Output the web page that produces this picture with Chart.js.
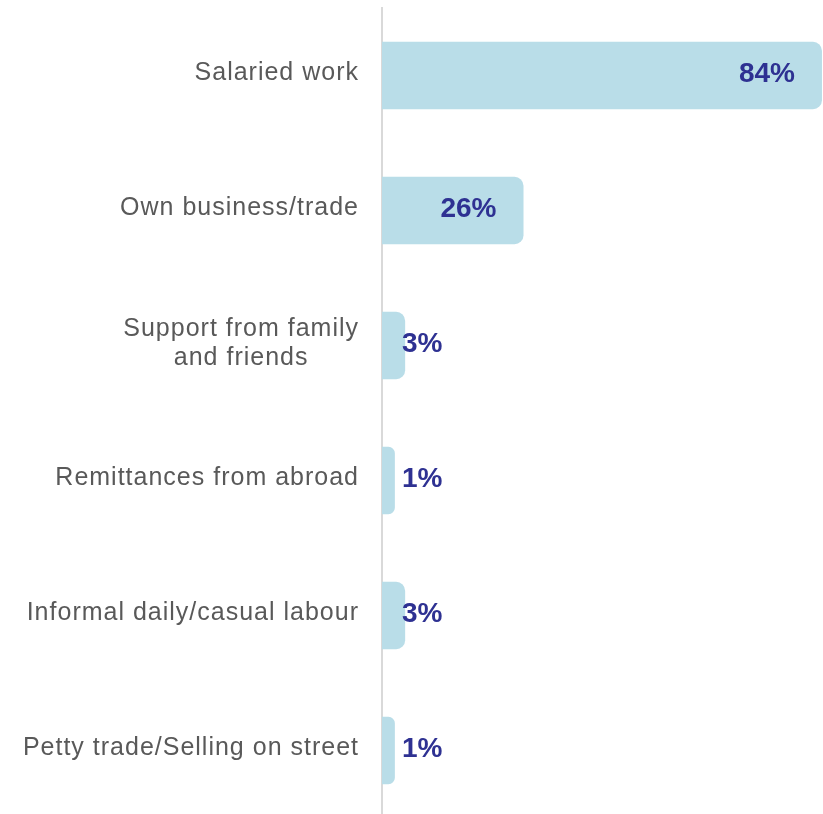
<!DOCTYPE html>
<html>
<head>
<meta charset="utf-8">
<script src="https://cdn.jsdelivr.net/npm/chart.js@4"></script>
<style>
html,body{margin:0;padding:0;background:#fff;overflow:hidden;}
#wrap{width:823px;height:818px;position:relative;}
</style>
</head>
<body>
<div id="wrap"><canvas id="c"></canvas></div>
<script>
const categories = [
  'Salaried work',
  'Own business/trade',
  ['Support from family', 'and friends'],
  'Remittances from abroad',
  'Informal daily/casual labour',
  'Petty trade/Selling on street'
];
const values = [84, 26, 3, 1, 3, 1];
const valueLabels = ['84%', '26%', '3%', '1%', '3%', '1%'];

const BAR = '#b9dde8';
const LABEL = '#2e3192';
const TEXT = '#595959';
const BASE = -1.5;

const labelPlugin = {
  id: 'labels',
  afterDatasetsDraw(chart) {
    const ctx = chart.ctx;
    const meta = chart.getDatasetMeta(0);
    const yScale = chart.scales.y;
    const xLeft = chart.chartArea.left;
    ctx.save();
    // category labels
    ctx.font = '25px "Liberation Sans", Arial, sans-serif';
    ctx.fillStyle = TEXT;
    ctx.textBaseline = 'middle';
    try { ctx.letterSpacing = '1px'; } catch (e) {}
    const rightEdge = xLeft - 23;
    const lineH = 29;
    categories.forEach((lab, i) => {
      const yc = yScale.getPixelForTick(i) - 2;
      const lines = Array.isArray(lab) ? lab : [lab];
      const widths = lines.map(l => ctx.measureText(l).width);
      const maxW = Math.max(...widths);
      const cx = rightEdge - maxW / 2;
      const y0 = yc - (lines.length - 1) * lineH / 2;
      lines.forEach((l, j) => {
        ctx.textAlign = 'center';
        ctx.fillText(l, cx, y0 + j * lineH);
      });
    });
    // value labels
    try { ctx.letterSpacing = '0px'; } catch (e) {}
    ctx.font = 'bold 28px "Liberation Sans", Arial, sans-serif';
    ctx.fillStyle = LABEL;
    meta.data.forEach((bar, i) => {
      const y = bar.y - 1;
      if (values[i] > 10) {
        ctx.textAlign = 'right';
        ctx.fillText(valueLabels[i], bar.x - 27, y);
      } else {
        ctx.textAlign = 'left';
        ctx.fillText(valueLabels[i], xLeft + 20, y);
      }
    });
    ctx.restore();
  }
};

new Chart(document.getElementById('c'), {
  type: 'bar',
  data: {
    labels: categories,
    datasets: [{
      data: values,
      base: BASE,
      backgroundColor: BAR,
      borderWidth: 0,
      borderRadius: { topLeft: 0, bottomLeft: 0, topRight: 9, bottomRight: 9 },
      borderSkipped: false,
      categoryPercentage: 1,
      barPercentage: 0.5
    }]
  },
  options: {
    indexAxis: 'y',
    responsive: true,
    maintainAspectRatio: false,
    animation: false,
    layout: { padding: { top: 8, right: 0, bottom: 0, left: 0 } },
    plugins: { legend: { display: false }, tooltip: { enabled: false } },
    scales: {
      x: { display: false, min: BASE, max: 84.2 },
      y: {
        ticks: { display: false },
        grid: { display: false },
        border: { display: true, color: '#d9d9d9', width: 2 },
        afterFit(scale) { scale.width = 382; }
      }
    }
  },
  plugins: [labelPlugin]
});
</script>
</body>
</html>
